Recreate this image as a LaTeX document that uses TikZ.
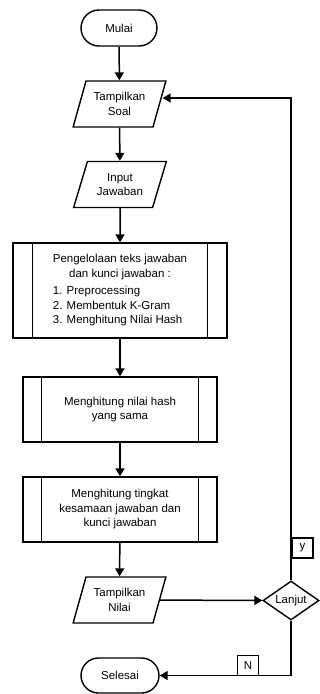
\documentclass[tikz,border=0pt]{standalone}
\usepackage{fontspec}
\setmainfont{Liberation Sans}
\usetikzlibrary{shapes.geometric,shapes.misc,arrows.meta,calc}
\begin{document}
\begin{tikzpicture}[x=1pt,y=-1pt,
  every node/.style={font=\fontsize{11.5}{14.5}\selectfont, align=center, inner sep=1pt},
  term/.style={draw, line width=1.4pt, rounded rectangle, minimum width=78pt, minimum height=36pt},
  io/.style={draw, line width=1.4pt, trapezium, trapezium left angle=67.5, trapezium right angle=112.5,
             trapezium stretches=true, minimum width=93pt, minimum height=46pt},
  proc/.style={draw, line width=1.4pt, rectangle},
  dec/.style={draw, line width=1.4pt, diamond, aspect=1.44, minimum width=56pt, minimum height=39pt, inner sep=0pt},
  lbl/.style={draw, line width=1.1pt, rectangle, minimum width=21pt, minimum height=20pt, inner sep=0pt},
  arr/.style={line width=1.5pt, -{Triangle[length=8pt,width=9pt]}}
]
\useasboundingbox (0,0) rectangle (320,694);

\node[term] (mulai) at (119,28) {Mulai};
\node[io] (soal) at (119.5,104) {Tampilkan\\Soal};
\node[io] (input) at (120,184.5) {Input\\Jawaban};

\node[proc, minimum width=214pt, minimum height=95pt] (p1) at (120,290.5)
  {\begin{tabular}{@{}l@{}}\multicolumn{1}{@{}c@{}}{Pengelolaan teks jawaban}\\
   \multicolumn{1}{@{}c@{}}{dan kunci jawaban :}\\[3pt]
   1. Preprocessing\\ 2. Membentuk K-Gram\\ 3. Menghitung Nilai Hash\end{tabular}};
\draw[line width=1.4pt] ($(p1.north west)+(20,0)$) -- ($(p1.south west)+(20,0)$);
\draw[line width=1.4pt] ($(p1.north east)+(-20,0)$) -- ($(p1.south east)+(-20,0)$);

\node[proc, minimum width=194pt, minimum height=65pt] (p2) at (120,409.5)
  {Menghitung nilai hash\\yang sama};
\draw[line width=1.4pt] ($(p2.north west)+(19,0)$) -- ($(p2.south west)+(19,0)$);
\draw[line width=1.4pt] ($(p2.north east)+(-19,0)$) -- ($(p2.south east)+(-19,0)$);

\node[proc, minimum width=194pt, minimum height=65pt] (p3) at (120,509.5)
  {Menghitung tingkat\\kesamaan jawaban dan\\kunci jawaban};
\draw[line width=1.4pt] ($(p3.north west)+(19,0)$) -- ($(p3.south west)+(19,0)$);
\draw[line width=1.4pt] ($(p3.north east)+(-19,0)$) -- ($(p3.south east)+(-19,0)$);

\node[io] (nilai) at (119.5,600) {Tampilkan\\Nilai};
\node[dec] (lanjut) at (291,600.5) {Lanjut};
\node[term, minimum width=80pt, minimum height=35pt] (selesai) at (120,675.5) {Selesai};

\node[lbl] (ly) at (302.5,548) {y};
\node[lbl] (ln) at (248,665.5) {N};

\coordinate (fb) at (291,98);

\draw[arr] (mulai) -- (soal);
\draw[arr] (soal) -- (input);
\draw[arr] (input) -- (p1);
\draw[arr] (p1) -- (p2);
\draw[arr] (p2) -- (p3);
\draw[arr] (p3) -- (nilai);
\draw[arr] (nilai) -- (lanjut);
\draw[arr] (lanjut.north) -- (fb) -- ($(fb -| soal.east)+(2.5,0)$);
\draw[arr] (lanjut.south) |- (selesai.east);
\end{tikzpicture}
\end{document}
